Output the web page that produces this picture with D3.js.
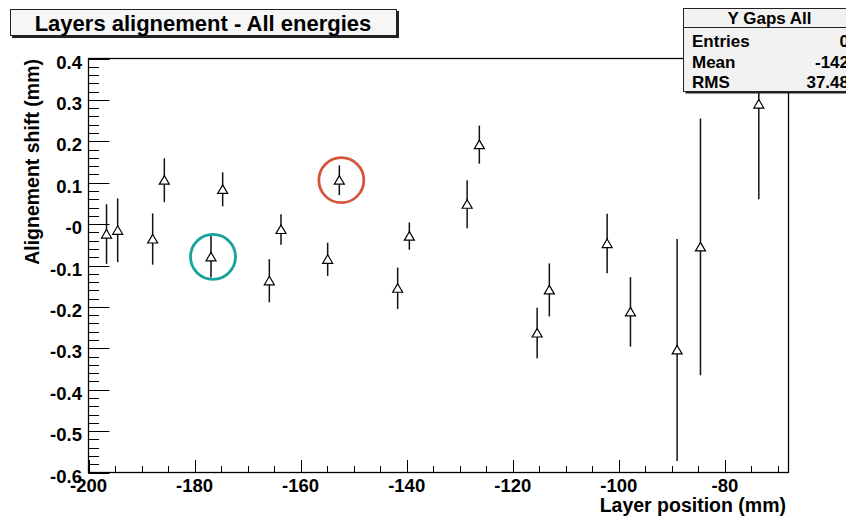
<!DOCTYPE html>
<html>
<head>
<meta charset="utf-8">
<script src="https://cdn.jsdelivr.net/npm/d3@7"></script>
<style>
  body { margin: 0; background: #fff; }
  svg text { font-family: "Liberation Sans", Arial, sans-serif; font-weight: bold; fill: #000; }
</style>
</head>
<body>
<div id="chart"></div>
<script>
// Layer positions (mm), alignment shift (mm) and its error
const layerPos = [-196.6, -194.5, -187.9, -185.7, -176.9, -174.7, -165.9, -163.7, -154.9, -152.7,
                  -141.7, -139.5, -128.6, -126.3, -115.4, -113.1, -102.2, -97.8, -89.0, -84.6, -73.6];
const shift    = [-0.024, -0.015, -0.036, 0.106, -0.079, 0.084, -0.137, -0.013, -0.085, 0.106,
                  -0.155, -0.029, 0.048, 0.192, -0.263, -0.159, -0.047, -0.212, -0.304, -0.055, 0.290];
const shiftErr = [0.072, 0.077, 0.062, 0.053, 0.050, 0.041, 0.052, 0.037, 0.040, 0.036,
                  0.050, 0.033, 0.058, 0.046, 0.061, 0.064, 0.072, 0.084, 0.268, 0.310, 0.230];

// highlighted points (index into the arrays above)
const highlights = [{ idx: 4, color: "#17a39b" }, { idx: 9, color: "#d4553a" }];

const xTicks = [-200, -180, -160, -140, -120, -100, -80];
const xTickLabels = ["-200", "-180", "-160", "-140", "-120", "-100", "-80"];
const yTicks = [-0.6, -0.5, -0.4, -0.3, -0.2, -0.1, 0, 0.1, 0.2, 0.3, 0.4];
const yTickLabels = ["-0.6", "-0.5", "-0.4", "-0.3", "-0.2", "-0.1", "-0", "0.1", "0.2", "0.3", "0.4"];

const statsLabels = ["Entries", "Mean", "RMS"];
const statsValues = ["0", "-142", "37.48"];

const W = 846, H = 518;
const frame = { left: 88.5, right: 788.5, top: 58.5, bottom: 472.5 };

const svg = d3.select("#chart").append("svg")
  .attr("width", W).attr("height", H);

const x = d3.scaleLinear().domain([-200, -68]).range([frame.left, frame.right]);
const y = d3.scaleLinear().domain([-0.6, 0.4]).range([frame.bottom, frame.top]);

// frame
svg.append("rect")
  .attr("x", frame.left).attr("y", frame.top)
  .attr("width", frame.right - frame.left).attr("height", frame.bottom - frame.top)
  .attr("fill", "none").attr("stroke", "#000").attr("stroke-width", 1.3);

// y ticks (major + minor)
const yMinor = d3.range(-0.6, 0.4001, 0.02);
svg.append("g").selectAll("line").data(yMinor).join("line")
  .attr("x1", frame.left).attr("x2", frame.left + 10.5)
  .attr("y1", d => Math.round(y(d)) + 0.5).attr("y2", d => Math.round(y(d)) + 0.5)
  .attr("stroke", "#000");
svg.append("g").selectAll("line").data(yTicks).join("line")
  .attr("x1", frame.left).attr("x2", frame.left + 21)
  .attr("y1", d => Math.round(y(d)) + 0.5).attr("y2", d => Math.round(y(d)) + 0.5)
  .attr("stroke", "#000");
svg.append("g").selectAll("text").data(yTicks).join("text")
  .attr("x", 82).attr("y", d => y(d) + 10)
  .attr("text-anchor", "end").style("font-size", "18.5px")
  .text((d, i) => yTickLabels[i]);

// x ticks
const xMinor = d3.range(-200, -67, 5);
svg.append("g").selectAll("line").data(xMinor).join("line")
  .attr("x1", d => Math.round(x(d)) + 0.5).attr("x2", d => Math.round(x(d)) + 0.5)
  .attr("y1", frame.bottom).attr("y2", frame.bottom - 6.5)
  .attr("stroke", "#000");
svg.append("g").selectAll("line").data(xTicks).join("line")
  .attr("x1", d => Math.round(x(d)) + 0.5).attr("x2", d => Math.round(x(d)) + 0.5)
  .attr("y1", frame.bottom).attr("y2", frame.bottom - 12.5)
  .attr("stroke", "#000");
svg.append("g").selectAll("text").data(xTicks).join("text")
  .attr("x", d => x(d)).attr("y", 491.5)
  .attr("text-anchor", "middle").style("font-size", "18.5px")
  .text((d, i) => xTickLabels[i]);

// axis titles
svg.append("text")
  .attr("x", 786).attr("y", 512)
  .attr("text-anchor", "end").style("font-size", "19.5px")
  .text("Layer position (mm)");
svg.append("text")
  .attr("transform", "translate(39,59) rotate(-90)")
  .attr("text-anchor", "end").style("font-size", "19.5px")
  .text("Alignement shift (mm)");

// error bars + markers
const pts = layerPos.map((p, i) => ({ x: p, y: shift[i], e: shiftErr[i] }));
const g = svg.append("g");
g.selectAll("line.err").data(pts).join("line")
  .attr("class", "err")
  .attr("x1", d => x(d.x)).attr("x2", d => x(d.x))
  .attr("y1", d => y(d.y + d.e)).attr("y2", d => y(d.y - d.e))
  .attr("stroke", "#111").attr("stroke-width", 1.5);
g.selectAll("path.mk").data(pts).join("path")
  .attr("class", "mk")
  .attr("transform", d => `translate(${x(d.x)},${y(d.y)})`)
  .attr("d", "M0,-4.5L5,4L-5,4Z")
  .attr("fill", "#fff").attr("stroke", "#000").attr("stroke-width", 1.2);

// highlight circles
svg.append("g").selectAll("circle").data(highlights).join("circle")
  .attr("cx", d => x(layerPos[d.idx]) + 2)
  .attr("cy", d => y(shift[d.idx]))
  .attr("r", 22.5)
  .attr("fill", "none").attr("stroke", d => d.color).attr("stroke-width", 2.8);

// title box
svg.append("rect").attr("x", 12).attr("y", 11).attr("width", 387).attr("height", 27).attr("fill", "#222");
svg.append("rect").attr("x", 10.5).attr("y", 9.5).attr("width", 386).attr("height", 26)
  .attr("fill", "#f6f6f6").attr("stroke", "#222").attr("stroke-width", 1);
svg.append("text").attr("x", 203).attr("y", 30.5)
  .attr("text-anchor", "middle").style("font-size", "22px")
  .text("Layers alignement - All energies");

// stats box
const sb = { x: 683.5, y: 8.5, w: 172, h: 83 };
svg.append("rect").attr("x", sb.x + 2).attr("y", sb.y + 2).attr("width", sb.w).attr("height", sb.h).attr("fill", "#222");
svg.append("rect").attr("x", sb.x).attr("y", sb.y).attr("width", sb.w).attr("height", sb.h)
  .attr("fill", "#f2f2f2").attr("stroke", "#222").attr("stroke-width", 1);
svg.append("line").attr("x1", sb.x).attr("x2", sb.x + sb.w).attr("y1", 27.5).attr("y2", 27.5)
  .attr("stroke", "#222");
svg.append("text").attr("x", 769.5).attr("y", 23.5)
  .attr("text-anchor", "middle").style("font-size", "17px").text("Y Gaps All");
const rowY = [47, 67.5, 88];
svg.append("g").selectAll("text").data(statsLabels).join("text")
  .attr("x", 692).attr("y", (d, i) => rowY[i]).style("font-size", "17px").text(d => d);
svg.append("g").selectAll("text").data(statsValues).join("text")
  .attr("x", 849).attr("y", (d, i) => rowY[i]).attr("text-anchor", "end")
  .style("font-size", "17px").text(d => d);
</script>
</body>
</html>
